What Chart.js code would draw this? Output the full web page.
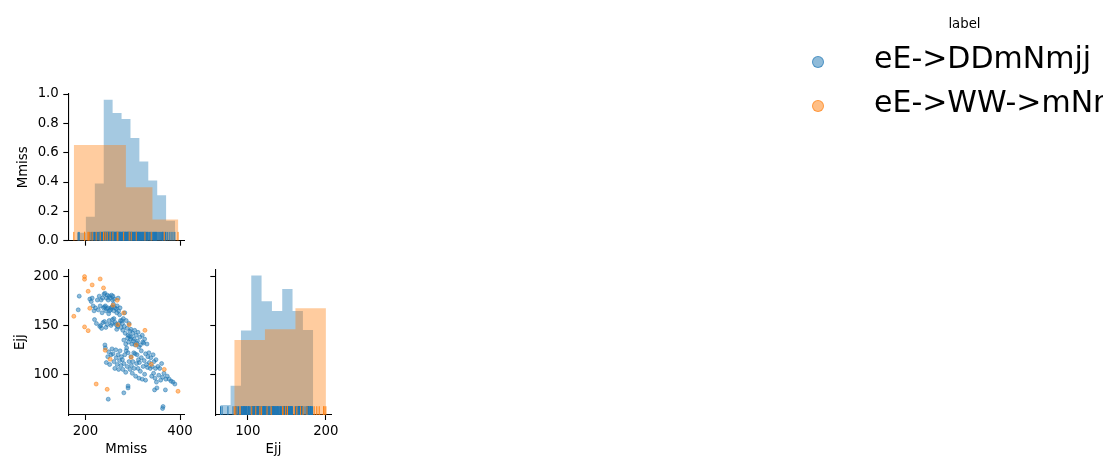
<!DOCTYPE html>
<html><head><meta charset="utf-8">
<script src="https://cdn.jsdelivr.net/npm/chart.js@4.4.1/dist/chart.umd.min.js"></script>
<style>
html,body{margin:0;padding:0;background:#fff;overflow:hidden;width:1103px;height:468px;}
canvas{position:absolute;left:0;top:0;}
.lg{position:absolute;font-family:"DejaVu Sans";white-space:nowrap;color:#000;}
.dot{position:absolute;width:12px;height:12px;box-sizing:border-box;border-radius:50%;}
</style></head><body>
<canvas id="c1" width="1103" height="468"></canvas>
<canvas id="c2" width="1103" height="468"></canvas>
<canvas id="c3" width="1103" height="468"></canvas>
<div class="lg" style="left:914.5px;top:15.7px;width:100px;text-align:center;font-size:13.3px;line-height:16px;">label</div>
<div class="dot" style="left:812.3px;top:55.7px;background:rgba(31,119,180,0.5);border:1px solid rgba(31,119,180,0.6);"></div>
<div class="lg" style="left:874px;top:42.9px;font-size:30px;line-height:30px;">eE-&gt;DDmNmjj</div>
<div class="dot" style="left:812.3px;top:100px;background:rgba(255,127,14,0.5);border:1px solid rgba(255,127,14,0.6);"></div>
<div class="lg" style="left:874px;top:87.2px;font-size:30px;line-height:30px;">eE-&gt;WW-&gt;mNmjj</div>
<script>
// ---- data ----
const seriesNames = ["eE->DDmNmjj", "eE->WW->mNmjj"];
const bluePoints = [ // [Mmiss, Ejj]
[186.6,180],[184.5,166],
[209,177],[212,174.5],[214,178],[216,170],[218,165],[219,156],
[221,168],[223,152],[225,176],[227,166],[229,180],[230,149],[231,170],[232,150],[233,176],[234,147],[235,163],[236,178],[237,153],[238,168],
[239,182],[240,169],[240,154],[241,183],[242,170],[243,165],[243,148],[244,178],[245,167],[246,151],[246,181],[247,168],[248,176],[249,162],[250,180],[250,155],[251,165],[252,178],[253,166],[254,150],[254,168],[255,181],[256,152],[256,169],[257,176],[257,156],
[241,130],[242,127],[244,112],[247,118],[249,123],[251,110],[254,120],[256,126],[248,74.5],
[258,180],[259,172],[260,165],[260,157],[261,177],[262,168],[263,153],[264,151],[265,167],[266,163],[266,146],[267,170],[268,149],[269,178],[270,165],[271,152],[272,161],[273,168],[274,155],[275,148],
[258,121],[260,113],[262,106],[264,125],[265,117],[267,110],[269,120],[270,105],[272,114],[273,124],[275,109],[276,118],
[277,155],[278,152],[279,145],[280,157],[282,149],[283,163],[284,142],[286,155],[288,147],[290,140],[292,152],[294,144],
[281,135],[285,131],[287,127],[289,137],[291,133],[293,139],[295,136],
[278,115],[279,105],[281,111],[283,120],[285,102],[286,124],[288,108],[290,122],[292,113],[294,105],
[281,81],[290,86],[290,88],
[296,146],[297,138],[298,131],[300,142],[301,134],[303,136],[304,145],[305,130],[307,140],[308,132],[310,134],[311,143],[313,128],
[296,118],[297,109],[299,101],[300,113],[302,122],[303,106],[305,121],[306,98],[308,111],[309,120],[311,106],[312,115],[313,96],
[315,138],[316,130],[318,124],[320,140],[321,133],[323,132],[325,136],[327,121],[330,131],
[314,112],[316,103],[318,117],[320,95],[322,108],[324,114],[325,100],[327,94],[329,110],[331,107],[332,118],
[334,122],[335,112],[337,106],[338,117],[340,98],[341,108],[343,120],[344,101],[345,113],[347,96],[348,106],[349,115],[350,92],[346,84],[351,86],
[353,108],[355,99],[357,106],[359,94],[361,111],[363,97],[363,65],[364,67],[366,101],[369,84],[370,95],
[373,98],[377,95],[381,93],[385,92],[389,90]
];
const orangePoints = [ // [Mmiss, Ejj]
[197.9,200],[197.9,197.3],[231,197.6],[214,191.5],[238,188.4],[205.5,185],[267,175.8],[258,170.7],
[280.6,162.8],[209,167.6],[175.2,159.4],[268.5,150.8],[197.9,148.5],[205.5,144.7],[292.4,150.8],[325.7,145],
[241.6,124.6],[307.3,130],[252,115.4],[296.7,117.4],[339,110.2],[366.6,105],[222.5,90],[245.8,84.6],[395.7,82.6]
];
// histogram bins (edges, heights)
const mmissBlueEdges   = [181.8,200.7,219.6,238.5,257.3,276.2,295.1,313.9,332.8,351.7,370.5,389.4];
const mmissBlueHeights = [0.054,0.164,0.39,0.96,0.87,0.83,0.70,0.54,0.41,0.31,0.136];
const mmissOrangeEdges   = [175.1,230.6,285.4,341.6,396.4];
const mmissOrangeHeights = [0.652,0.652,0.364,0.145];
const ejjBlueEdges   = [64.7,77.9,91.2,104.4,117.6,130.9,144.1,157.3,170.6,183.8];
const ejjBlueHeights = [0.069,0.20,0.58,0.957,0.78,0.714,0.865,0.714,0.584];
const ejjOrangeEdges   = [82.6,121.9,161.0,200.1];
const ejjOrangeHeights = [0.515,0.588,0.732];
// ticks
const mmissTicks = [200,400];
const ejjTicks = [100,150,200];
const ejjXTicks = [100,200];
const densTicks = [0,0.2,0.4,0.6,0.8,1.0];
const mmissRange = [163.5,409];
const ejjRange = [58.3,207.5];

// ---- styling ----
const BLUE='#1f77b4', ORANGE='#ff7f0e';
const FONT={family:'DejaVu Sans',size:13.3};
Chart.defaults.font.family='DejaVu Sans';
Chart.defaults.font.size=13.3;
Chart.defaults.color='#000';

function mkScale(o){
  return {
    type:'linear', min:o.min, max:o.max, display:o.hidden?false:true,
    grid:{display:true,drawOnChartArea:false,drawTicks:true,tickLength:5,tickColor:'#000',tickWidth:1.1,color:'#000'},
    border:{display:true,color:'#000',width:1.1},
    ticks:{display:!!o.labels,padding:o.vertical?4.5:3.5,color:'#000',font:FONT,autoSkip:false,maxRotation:0,
      callback:(v)=>o.fmt?o.fmt(v):String(v)},
    title:o.title?{display:true,text:o.title,padding:{top:0,bottom:0},color:'#000',font:FONT}:{display:false},
    afterBuildTicks:(s)=>{ if(o.ticks) s.ticks=o.ticks.map(v=>({value:v})); },
    afterFit:(s)=>{ if(o.size!==undefined){ if(o.vertical) s.width=o.size; else s.height=o.size; }
      s.paddingTop=0;s.paddingBottom=0;s.paddingLeft=0;s.paddingRight=0; }
  };
}
function histPts(edges,h){
  const p=[];
  for(let i=0;i<h.length;i++) p.push({x:edges[i],y:h[i]});
  p.push({x:edges[edges.length-1],y:0});
  return p;
}
function histDS(edges,h,color,order,yid){
  return {data:histPts(edges,h),showLine:true,stepped:true,fill:'origin',backgroundColor:color,
    borderWidth:0,borderColor:'rgba(0,0,0,0)',pointRadius:0,pointHoverRadius:0,order:order,yAxisID:yid};
}
function rugDS(vals,color,order,yid){
  return {data:vals.map(v=>({x:v,y:0.03})),showLine:false,pointStyle:'line',rotation:90,pointRadius:4.4,
    pointHoverRadius:4.4,borderWidth:1,pointBorderColor:color,borderColor:color,order:order,yAxisID:yid};
}
const base={responsive:false,animation:false,events:[],plugins:{legend:{display:false},tooltip:{enabled:false}}};

// Chart 1: Mmiss histogram (top-left)
new Chart(document.getElementById('c1'),{type:'scatter',
  data:{datasets:[
    histDS(mmissBlueEdges,mmissBlueHeights,'rgba(31,119,180,0.4)',3,'y'),
    histDS(mmissOrangeEdges,mmissOrangeHeights,'rgba(255,127,14,0.4)',2,'y'),
    rugDS(bluePoints.map(p=>p[0]),BLUE,1,'y'),
    rugDS(orangePoints.map(p=>p[0]),ORANGE,0,'y')
  ]},
  options:Object.assign({},base,{
    layout:{padding:{left:16,top:94,right:918.7,bottom:207.3}},
    scales:{
      x:mkScale({min:mmissRange[0],max:mmissRange[1],ticks:mmissTicks,labels:false,size:20}),
      y:mkScale({min:0,max:1,ticks:densTicks,labels:true,vertical:true,size:52.3,title:'Mmiss',fmt:v=>v.toFixed(1)})
    }})
});

// Chart 2: scatter Mmiss vs Ejj (bottom-left)
function scatDS(pts,rgb,order){
  return {data:pts.map(p=>({x:p[0],y:p[1]})),pointRadius:2,pointHoverRadius:2,borderWidth:1,
    backgroundColor:'rgba('+rgb+',0.5)',borderColor:'rgba('+rgb+',0.5)',order:order};
}
new Chart(document.getElementById('c2'),{type:'scatter',
  data:{datasets:[scatDS(bluePoints,'31,119,180',1),scatDS(orangePoints,'255,127,14',0)]},
  options:Object.assign({},base,{
    layout:{padding:{left:12.5,top:269.3,right:918.7,bottom:10.8}},
    scales:{
      x:mkScale({min:mmissRange[0],max:mmissRange[1],ticks:mmissTicks,labels:true,size:42.2,title:'Mmiss'}),
      y:mkScale({min:ejjRange[0],max:ejjRange[1],ticks:ejjTicks,labels:true,vertical:true,size:55.8,title:'Ejj'})
    }})
});

// Chart 3: Ejj histogram (bottom-right)
new Chart(document.getElementById('c3'),{type:'scatter',
  data:{datasets:[
    histDS(ejjBlueEdges,ejjBlueHeights,'rgba(31,119,180,0.4)',3,'yh'),
    histDS(ejjOrangeEdges,ejjOrangeHeights,'rgba(255,127,14,0.4)',2,'yh'),
    rugDS(bluePoints.map(p=>p[1]),BLUE,1,'yh'),
    rugDS(orangePoints.map(p=>p[1]),ORANGE,0,'yh')
  ]},
  options:Object.assign({},base,{
    layout:{padding:{left:205.3,top:269.3,right:771.3,bottom:10.8}},
    scales:{
      x:mkScale({min:ejjRange[0],max:ejjRange[1],ticks:ejjXTicks,labels:true,size:42.2,title:'Ejj'}),
      y:mkScale({min:ejjRange[0],max:ejjRange[1],ticks:ejjTicks,labels:false,vertical:true,size:10}),
      yh:{type:'linear',min:0,max:1,display:false,position:'left'}
    }})
});
</script>
</body></html>
